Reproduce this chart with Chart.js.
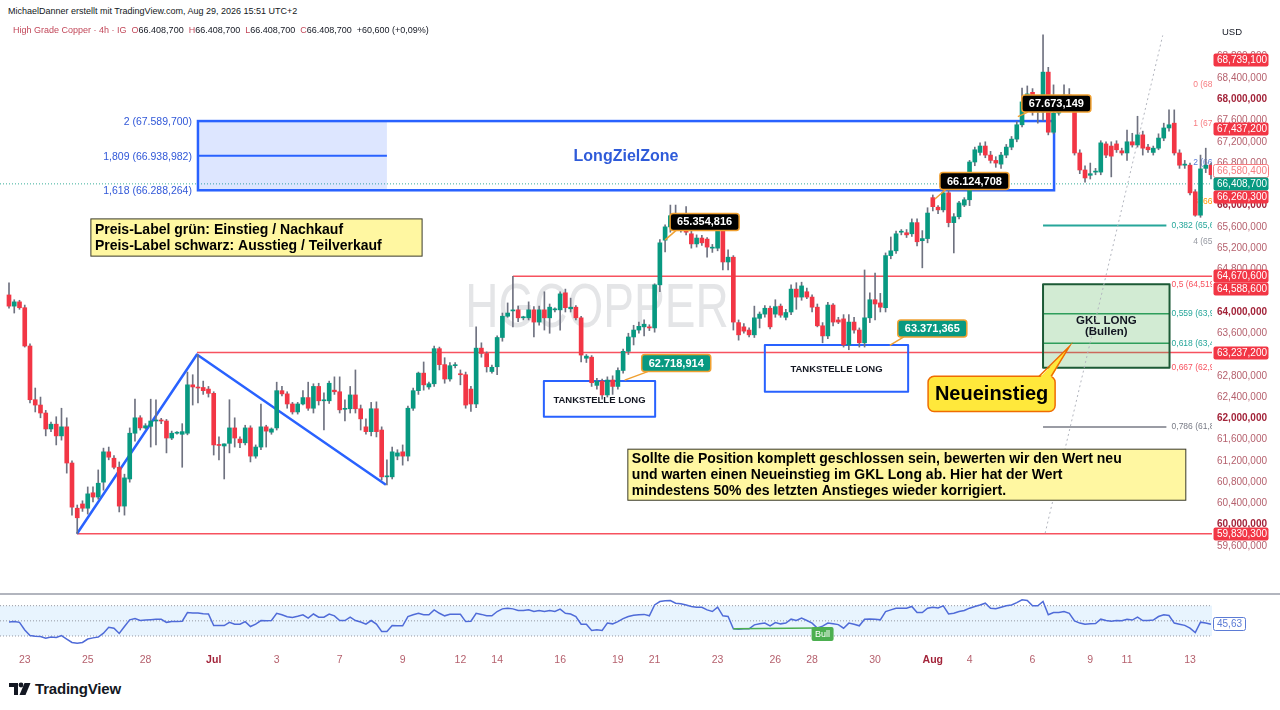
<!DOCTYPE html>
<html>
<head>
<meta charset="utf-8">
<script src="https://cdn.jsdelivr.net/npm/chart.js@4.4.1/dist/chart.umd.min.js"></script>
<style>
  body { margin: 0; width: 1280px; height: 710px; overflow: hidden; background: #fff; position: relative; font-family: 'Liberation Sans', Arial, sans-serif; }
  canvas { position: absolute; left: 0; }
  #main { top: 20px; }
  #rsi { top: 596px; }
  .hd { position: absolute; white-space: nowrap; color: #131722; }
  .r { color: #c2485a; }
</style>
</head>
<body>
<canvas id="main" width="1280" height="574"></canvas>
<div style="position:absolute;left:0;top:593px;width:1280px;height:2px;background:#b2b5be"></div>
<canvas id="rsi" width="1280" height="74"></canvas>

<div class="hd" style="left:8px;top:6px;font-size:9px">MichaelDanner erstellt mit TradingView.com, Aug 29, 2026 15:51 UTC+2</div>
<div class="hd" style="left:13px;top:25px;font-size:9px"><span class="r">High Grade Copper · 4h · IG</span>&nbsp;&nbsp;<span class="r">O</span>66.408,700&nbsp;&nbsp;<span class="r">H</span>66.408,700&nbsp;&nbsp;<span class="r">L</span>66.408,700&nbsp;&nbsp;<span class="r">C</span>66.408,700&nbsp;&nbsp;+60,600 (+0,09%)</div>
<div class="hd" style="left:1222px;top:26px;font-size:9.5px">USD</div>
<div class="hd" style="left:9px;top:680px;display:flex;align-items:center;gap:4px">
  <svg width="22" height="14" viewBox="0 0 22 14"><path d="M0 1h9v12H5V5H0z" fill="#131722"/><circle cx="12" cy="3" r="2.4" fill="#131722"/><path d="M15.5 1h6l-5 12h-6z" fill="#131722"/></svg>
  <span style="font-weight:bold;font-size:15px;letter-spacing:-0.2px">TradingView</span>
</div>

<script>
// ---- candles (4h), index 0 = Jun 23 ----
const opens = [
  64.32,64.11,64.19,64.08,63.36,62.35,62.25,62.10,61.80,61.89,
  61.67,61.84,61.16,60.31,60.39,60.31,60.60,60.52,60.80,61.37,
  61.25,61.08,60.35,60.86,61.72,62.01,61.82,61.85,61.95,61.96,
  61.95,61.63,61.72,61.70,61.72,62.63,62.58,62.58,62.55,62.47,
  61.50,61.48,61.53,61.82,61.61,61.54,61.82,61.29,61.46,61.84,
  61.74,61.82,62.52,62.46,62.27,62.12,62.27,62.39,62.19,62.60,
  62.33,62.33,62.53,62.50,62.17,62.18,62.44,62.18,61.84,61.75,
  62.18,61.78,60.90,60.90,61.29,61.37,61.29,62.19,62.52,62.85,
  62.59,62.65,63.31,63.01,62.74,62.99,62.83,62.82,62.55,62.27,
  63.32,63.22,62.88,62.97,63.52,63.92,64.02,64.04,63.89,63.89,
  64.04,63.81,64.04,63.89,64.04,64.04,64.36,64.06,64.09,63.89,
  63.13,63.15,62.62,62.70,62.44,62.72,62.60,62.90,63.26,63.53,
  63.66,63.72,63.72,63.70,64.51,65.35,65.60,65.81,65.60,65.75,
  65.47,65.28,65.39,65.37,65.20,65.20,65.64,64.94,65.03,63.80,
  63.72,63.66,63.57,63.88,63.96,64.07,63.96,64.11,63.90,64.00,
  64.43,64.28,64.38,64.28,64.09,63.74,63.55,64.13,63.85,63.87,
  63.38,63.81,63.66,63.42,63.89,64.23,64.17,64.08,65.06,65.15,
  65.50,65.49,65.47,65.68,65.34,65.38,66.15,65.97,65.92,66.24,
  65.68,65.79,66.01,66.11,66.82,67.00,67.12,66.95,66.85,66.78,
  66.95,67.10,67.25,67.52,67.95,68.13,67.76,67.76,68.51,67.38,
  67.74,67.90,68.08,67.90,66.99,66.67,66.57,66.63,66.63,67.16,
  67.12,67.16,67.03,66.99,67.20,67.14,67.33,67.10,67.00,67.08,
  67.27,67.46,67.55,66.99,66.76,66.76,66.26,65.82,66.70,66.76
];
const highs = [
  64.55,64.23,64.22,64.13,63.40,62.57,62.40,62.15,61.93,62.03,
  62.19,62.01,61.20,60.37,60.45,60.71,60.71,61.03,61.44,61.46,
  61.30,61.18,60.95,61.82,62.36,62.05,61.90,62.36,62.35,62.00,
  61.98,61.76,61.75,61.90,62.87,62.82,63.20,62.70,62.60,62.50,
  61.65,61.52,62.35,62.01,61.65,61.87,61.86,61.50,62.27,61.87,
  61.82,62.68,62.60,62.50,62.30,62.30,62.52,62.68,62.65,62.66,
  62.48,62.70,62.78,62.78,62.35,62.60,62.91,62.25,61.99,62.30,
  62.31,61.84,61.22,61.46,61.41,61.50,62.23,62.57,62.87,63.06,
  62.68,63.36,63.34,63.14,63.05,63.05,62.91,62.87,62.60,63.72,
  63.42,63.25,63.00,63.55,63.98,64.17,64.67,64.11,63.92,64.19,
  64.10,64.11,64.38,64.15,64.08,64.38,64.43,64.26,64.12,63.92,
  63.20,63.18,62.75,62.74,62.78,62.80,62.95,63.30,63.60,63.75,
  63.81,63.85,63.76,64.53,65.36,65.64,66.01,66.01,65.85,65.98,
  65.55,65.45,65.44,65.40,65.27,65.68,65.68,65.17,65.06,63.85,
  63.78,63.70,64.11,64.00,64.12,64.11,64.23,64.15,64.05,64.51,
  64.55,64.56,64.45,64.32,64.15,63.80,64.18,64.16,63.90,63.95,
  63.95,63.90,63.70,64.79,64.36,64.73,64.35,65.11,65.41,65.52,
  65.55,65.55,65.75,65.75,65.53,65.96,66.20,66.00,66.28,66.28,
  65.85,66.08,66.15,66.85,67.10,67.18,67.20,67.02,66.92,67.00,
  67.15,67.30,67.58,68.21,68.25,68.20,67.85,69.21,68.60,68.27,
  67.95,68.27,68.20,67.95,67.05,66.75,66.80,66.70,67.22,67.20,
  67.20,67.22,67.08,67.42,67.36,67.68,67.40,67.15,67.12,67.35,
  67.55,67.80,67.80,67.05,66.85,66.80,66.30,66.95,67.08,66.80
];
const lows = [
  64.07,63.98,64.05,63.34,62.29,62.12,62.01,61.67,61.75,61.50,
  61.59,60.97,60.18,59.83,60.25,60.20,60.43,60.48,60.65,61.22,
  61.05,60.24,60.18,60.80,61.57,61.78,61.80,61.46,61.50,61.90,
  61.35,61.60,61.70,61.08,61.69,62.25,62.29,62.45,62.40,61.31,
  61.22,60.86,61.35,61.46,61.45,61.50,61.18,61.25,61.41,61.46,
  61.70,61.78,62.42,62.19,62.08,62.08,62.25,62.15,62.10,62.25,
  61.78,62.28,62.45,62.10,61.95,62.10,62.10,61.78,61.70,61.67,
  61.65,60.84,60.75,60.86,61.22,61.12,61.20,62.15,62.45,62.53,
  62.55,62.60,62.91,62.66,62.70,62.95,62.63,62.19,62.13,62.20,
  63.15,62.87,62.85,62.82,63.45,63.90,63.72,63.82,63.85,63.85,
  63.53,63.75,63.66,63.60,64.00,63.66,64.00,64.00,63.85,63.06,
  63.05,62.60,62.55,62.36,62.40,62.45,62.55,62.85,63.20,63.38,
  63.60,63.55,63.65,63.62,64.38,65.13,65.50,65.55,65.50,65.45,
  65.20,65.22,65.25,65.03,65.12,65.15,64.79,64.79,63.66,63.47,
  63.60,63.53,63.52,63.70,63.90,63.68,63.90,63.90,63.85,63.95,
  64.05,64.22,64.25,64.00,63.72,63.42,63.50,63.74,63.78,63.34,
  63.29,63.60,63.34,63.34,63.80,63.85,64.00,64.00,65.00,65.10,
  65.45,65.40,65.42,65.24,64.83,65.30,65.90,65.85,65.88,65.60,
  65.11,65.75,65.98,66.00,66.75,66.95,66.90,66.80,66.72,66.70,
  66.90,67.05,67.20,67.48,67.90,67.70,67.55,67.60,67.33,67.35,
  67.70,67.85,67.85,66.95,66.60,66.44,66.50,66.58,66.58,66.90,
  66.54,67.00,66.95,66.85,67.10,67.10,66.95,67.00,66.95,67.05,
  67.22,67.40,66.95,66.70,66.70,66.20,65.80,65.78,66.62,66.50
];
const closes = [
  64.11,64.19,64.08,63.36,62.35,62.25,62.10,61.80,61.89,61.67,
  61.84,61.16,60.33,60.13,60.31,60.58,60.52,60.78,61.37,61.27,
  61.08,60.35,60.88,61.72,62.01,61.82,61.86,61.95,61.96,61.95,
  61.63,61.72,61.73,61.75,62.63,62.59,62.57,62.52,62.47,61.50,
  61.49,61.52,61.82,61.63,61.54,61.82,61.29,61.46,61.84,61.76,
  61.80,62.52,62.46,62.27,62.12,62.27,62.39,62.19,62.60,62.33,
  62.34,62.66,62.50,62.16,62.18,62.44,62.18,61.99,61.75,62.18,
  61.75,60.90,60.91,61.37,61.35,61.29,62.19,62.52,62.85,62.63,
  62.65,63.31,63.01,62.74,62.99,63.00,62.82,62.25,62.27,63.32,
  63.22,62.97,62.96,63.52,63.92,63.98,64.03,63.89,63.90,64.04,
  63.81,64.04,63.89,64.09,64.05,64.34,64.08,64.09,63.89,63.19,
  63.17,62.67,62.70,62.44,62.72,62.60,62.90,63.26,63.53,63.66,
  63.73,63.77,63.70,64.51,65.30,65.60,65.81,65.64,65.75,65.50,
  65.28,65.39,65.30,65.22,65.21,65.64,64.94,65.03,63.81,63.57,
  63.64,63.57,63.89,63.96,64.07,63.72,64.10,63.94,63.99,64.43,
  64.28,64.49,64.28,64.09,63.74,63.55,64.13,63.81,63.81,63.38,
  63.81,63.66,63.42,63.89,64.23,64.15,64.09,65.06,65.15,65.47,
  65.51,65.45,65.68,65.32,65.38,65.86,65.98,65.92,66.24,65.68,
  65.79,66.05,66.11,66.82,67.05,67.12,66.95,66.85,66.80,66.95,
  67.10,67.25,67.52,67.95,68.10,67.76,67.78,68.51,67.38,67.74,
  67.90,68.08,67.90,66.99,66.67,66.52,66.60,66.64,67.18,66.95,
  66.93,67.05,66.99,67.20,67.14,67.33,67.08,67.05,67.08,67.27,
  67.46,67.52,66.99,66.76,66.78,66.24,65.82,66.69,66.76,66.58
];
// RSI (14)
const rsiValues = [
  48.5,49,48,38,30.7,29.5,29.3,27,28.5,28,
  30.6,26,21.5,20.5,21.4,26,27.5,28.5,33.7,41.6,
  40.3,33.3,42.5,51.3,53,50.4,51,51.5,52,52,
  48,49,49,49.5,61,60.5,60.5,59.5,59,43.8,
  43.8,43.8,48,45.6,45.6,49,42.5,45.6,50.4,50,
  50.4,60,58,55.5,54.4,56,58,53.5,59,54.8,
  54.8,59,56.6,50.4,50.4,54.8,50.4,48.5,45.6,50.4,
  45.6,36,36,43.8,43.5,43.5,55.7,58,60,58,
  58,64.5,60,56.6,58.6,58.6,58.6,49,49.5,60,
  58.5,56.6,56.6,62.3,65.8,66.5,65.8,63.6,63.6,64.5,
  62.3,63.6,62.3,63.6,62.3,65.4,60,59,55.7,45.6,
  45.6,37.3,38.2,37.3,47,46,49,53,55.7,57.5,
  58,58.5,56.6,71,75.5,76.5,76.8,73.3,72.5,71,
  69,68,68,64.5,62.3,68,56.6,55.7,39.4,39,
  39.5,39.4,44.7,46,47,43.4,47.8,46,47,52.2,
  50.4,53.5,50.4,47,40.5,43,47,46,45,40.3,
  47,45.6,43.4,52.2,52.5,52.2,51.3,62.3,64.5,66.7,
  66.7,66.7,69,61,61,66.7,68,67,69.8,59,
  60,62.3,63.6,66.7,69,71,73.3,66.7,66,68,
  69.8,71,74,77.7,76.8,69.8,69.8,75.5,58,61,
  61,62.3,60,50,47,45.6,46,46.5,52.2,50.4,
  49.5,50.4,50,52.2,51,54.8,50.4,50.4,51,55.7,
  58,57,47,45.6,44,40.3,34.6,48.2,47,45.63
];

const dateTickIdx    = [3, 15, 26, 39, 51, 63, 75, 86, 93, 105, 116, 123, 135, 146, 153, 165, 176, 183, 195, 206, 213, 225];
const dateTickLabels = ['23','25','28','Jul','3','7','9','12','14','16','19','21','23','26','28','30','Aug','4','6','9','11','13'];
const priceTicks = [59.6,60.0,60.4,60.8,61.2,61.6,62.0,62.4,62.8,63.2,63.6,64.0,64.4,64.8,65.2,65.6,66.0,66.4,66.8,67.2,67.6,68.0,68.4,68.8];

const axisMarks   = [68.7391, 67.4372, 66.5804, 66.4087, 66.2603, 64.6706, 64.5886, 63.2372, 59.8303];
const markKinds   = ['red','red','outline','green','red','red','red','red','red'];
const lastPrice   = 66.4087;
const zoneLevels  = [67.5897, 66.938982, 66.288264];
const zoneNames   = ['2', '1,809', '1,618'];
const supportLvls = [64.6706, 63.2372, 59.8303];
const supportFrom = [96, 35.8, 12.95];
const fibHigh = 69.208, fibLow = 59.8303;
const fibRatios = [0.382, 0.5, 0.559, 0.618, 0.667, 0.786];
const extLevels = [68.27, 67.535, 66.80, 66.065, 65.33];
const calloutPrices = [62.718914, 63.371365, 65.354816, 66.124708, 67.673149];

const F = "'Liberation Sans', Arial, sans-serif";
const UP = '#089981', DOWN = '#f23645';
const XMIN = -1.7146, XMAX = 229.19;
const boxes = [[101.9, 123.1, 62.70, 62.03], [144.0, 171.3, 63.38, 62.50]];

Chart.defaults.font.family = F;
Chart.defaults.animation = false;

const usFmt = v => Math.round(v * 1e6).toLocaleString('en-US');
function deFmt(v) {
  const [a, b] = (v * 1000).toFixed(3).split('.');
  return a.slice(0, -3) + '.' + a.slice(-3) + ',' + b;
}
const isWhole = v => Math.abs(v - Math.round(v)) < 1e-6;
function line(ctx, x1, y1, x2, y2) { ctx.beginPath(); ctx.moveTo(x1, y1); ctx.lineTo(x2, y2); ctx.stroke(); }

const idx = closes.map((_, i) => i);

const mainDecor = {
  id: 'mainDecor',
  beforeDatasetsDraw(c) {
    const { ctx, chartArea: a } = c;
    const x = i => c.scales.x.getPixelForValue(i), y = v => c.scales.y.getPixelForValue(v);
    ctx.save();
    ctx.beginPath(); ctx.rect(a.left, a.top, a.width, a.height); ctx.clip();

    // watermark
    ctx.save();
    ctx.fillStyle = 'rgba(120,123,134,0.2)';
    ctx.font = `46px ${F}`;
    ctx.textAlign = 'center'; ctx.textBaseline = 'middle';
    ctx.translate(597, 290); ctx.scale(1, 1.35);
    ctx.fillText('HGCOPPER', 0, 0);
    ctx.restore();

    // last price line
    ctx.setLineDash([1, 2]); ctx.strokeStyle = 'rgba(8,153,129,0.8)'; ctx.lineWidth = 1;
    line(ctx, a.left, y(lastPrice), a.right, y(lastPrice));
    ctx.setLineDash([]);

    // horizontal red lines
    ctx.strokeStyle = '#f7525f'; ctx.lineWidth = 1.5;
    supportLvls.forEach((v, k) => line(ctx, x(supportFrom[k]), y(v), a.right, y(v)));

    // LongZielZone
    const zl = x(36), zm = x(72), zr = x(199.1);
    const zt = y(zoneLevels[0]), zb = y(zoneLevels[2]);
    ctx.fillStyle = 'rgba(41,98,255,0.16)';
    ctx.fillRect(zl, zt, zm - zl, zb - zt);
    ctx.strokeStyle = '#2962ff'; ctx.lineWidth = 2;
    line(ctx, zl, y(zoneLevels[1]), zm, y(zoneLevels[1]));
    ctx.lineWidth = 2.5;
    ctx.strokeRect(zl, zt, zr - zl, zb - zt);
    ctx.fillStyle = '#3158d8'; ctx.font = `10.5px ${F}`;
    ctx.textAlign = 'right'; ctx.textBaseline = 'middle';
    zoneLevels.forEach((v, k) => ctx.fillText(`${zoneNames[k]} (${deFmt(v)})`, zl - 6, y(v) + 1));
    ctx.font = `bold 16px ${F}`; ctx.textAlign = 'center'; ctx.fillStyle = '#2f5bd9';
    ctx.fillText('LongZielZone', (zl + zr) / 2, y(zoneLevels[1]) + 1);

    // triangle pattern
    ctx.strokeStyle = '#2962ff'; ctx.lineWidth = 2.5; ctx.lineJoin = 'round';
    ctx.beginPath();
    ctx.moveTo(x(12.95), y(lows[13]));
    ctx.lineTo(x(35.8), y(highs[36]));
    ctx.lineTo(x(71.8), y(lows[72]));
    ctx.stroke();

    // fib retracement + GKL box
    const lvl = r => fibHigh - r * (fibHigh - fibLow);
    const b1 = x(197), b2 = x(221.1), lEnd = x(220.5);
    ctx.fillStyle = 'rgba(76,175,80,0.25)';
    ctx.fillRect(b1, y(lvl(0.5)), b2 - b1, y(lvl(0.667)) - y(lvl(0.5)));
    ctx.strokeStyle = '#2e9e5b'; ctx.lineWidth = 1.5;
    line(ctx, b1, y(lvl(0.559)), b2, y(lvl(0.559)));
    line(ctx, b1, y(lvl(0.618)), b2, y(lvl(0.618)));
    ctx.strokeStyle = '#1c5a36'; ctx.lineWidth = 2;
    ctx.strokeRect(b1, y(lvl(0.5)), b2 - b1, y(lvl(0.667)) - y(lvl(0.5)));
    ctx.strokeStyle = '#26a69a'; ctx.lineWidth = 2;
    line(ctx, b1, y(lvl(0.382)), lEnd, y(lvl(0.382)));
    ctx.strokeStyle = '#787b86'; ctx.lineWidth = 1.5;
    line(ctx, b1, y(lvl(0.786)), lEnd, y(lvl(0.786)));
    const fibCol = ['#26a69a', '#f7525f', '#26a69a', '#26a69a', '#f7525f', '#787b86'];
    ctx.font = `8.5px ${F}`; ctx.textAlign = 'left'; ctx.textBaseline = 'middle';
    fibRatios.forEach((r, k) => {
      ctx.fillStyle = fibCol[k];
      ctx.fillText(`${String(r).replace('.', ',')} (${usFmt(lvl(r))})`, b2 + 2, y(lvl(r)));
    });
    ctx.fillStyle = '#131722'; ctx.font = `bold 11.5px ${F}`; ctx.textAlign = 'center';
    const gm = (y(lvl(0.5)) + y(lvl(0.667))) / 2;
    ctx.fillText('GKL LONG', (b1 + b2) / 2, gm - 5);
    ctx.fillText('(Bullen)', (b1 + b2) / 2, gm + 6);

    // extension level labels
    const extCol = ['#f77c80', '#f77c80', '#5b7bd5', '#ff9800', '#9598a1'];
    ctx.font = `8.5px ${F}`; ctx.textAlign = 'left';
    extLevels.forEach((v, k) => { ctx.fillStyle = extCol[k]; ctx.fillText(`${k} (${usFmt(v)})`, x(225.6), y(v)); });

    // dotted angle line
    ctx.strokeStyle = '#b2b5be'; ctx.lineWidth = 1; ctx.setLineDash([2, 3]);
    line(ctx, x(197.4), y(59.84), x(219.8), y(69.2));
    ctx.setLineDash([]);

    // TANKSTELLE LONG box frames
    ctx.strokeStyle = '#2962ff'; ctx.lineWidth = 2;
    boxes.forEach(([i0, i1, v0, v1]) => ctx.strokeRect(x(i0), y(v0), x(i1) - x(i0), y(v1) - y(v0)));
    ctx.restore();
  },
  afterDatasetsDraw(c) {
    const { ctx, chartArea: a } = c;
    const x = i => c.scales.x.getPixelForValue(i), y = v => c.scales.y.getPixelForValue(v);
    ctx.save();
    ctx.beginPath(); ctx.rect(a.left, a.top, a.width, a.height); ctx.clip();

    // TANKSTELLE LONG texts on top
    ctx.font = `bold 9.5px ${F}`; ctx.fillStyle = '#131722'; ctx.textAlign = 'center'; ctx.textBaseline = 'middle';
    boxes.forEach(([i0, i1, v0, v1]) => ctx.fillText('TANKSTELLE LONG', (x(i0) + x(i1)) / 2, (y(v0) + y(v1)) / 2 + 1));

    // yellow notes
    const note = (i0, i1, v0, v1, lines, off) => {
      const l = x(i0), t = y(v0);
      ctx.fillStyle = '#fff7a1'; ctx.fillRect(l, t, x(i1) - l, y(v1) - t);
      ctx.strokeStyle = '#3a3a2a'; ctx.lineWidth = 1; ctx.strokeRect(l, t, x(i1) - l, y(v1) - t);
      ctx.fillStyle = '#000'; ctx.font = `bold 14px ${F}`; ctx.textAlign = 'left'; ctx.textBaseline = 'middle';
      lines.forEach((s, k) => ctx.fillText(s, l + 4, t + off + k * 16));
    };
    note(15.6, 78.7, 65.75, 65.05, ['Preis-Label grün: Einstieg / Nachkauf', 'Preis-Label schwarz: Ausstieg / Teilverkauf'], 11);
    note(117.9, 224.2, 61.42, 60.46, [
      'Sollte die Position komplett geschlossen sein, bewerten wir den Wert neu',
      'und warten einen Neueinstieg im GKL Long ab. Hier hat der Wert',
      'mindestens 50% des letzten Anstieges wieder korrigiert.'
    ], 10);

    // price label callouts
    const anchors = [[117.3, 17, -17, UP], [167.8, 8, -17, UP], [125, 5, -18, '#000'], [176.4, 5, -18, '#000'], [192.2, 4, -13, '#000']];
    ctx.font = `bold 11px ${F}`; ctx.textAlign = 'left'; ctx.textBaseline = 'middle';
    calloutPrices.forEach((v, k) => {
      const [ai, dx, dy, bg] = anchors[k];
      const ax = x(ai), ay = y(v), t = deFmt(v);
      const w = ctx.measureText(t).width + 14, h = 17;
      const bx = ax + dx, by = ay + dy - h / 2;
      ctx.strokeStyle = '#f0a030'; ctx.lineWidth = 1.5;
      line(ctx, bx + 6, by + h, ax, ay);
      ctx.fillStyle = bg; ctx.beginPath(); ctx.roundRect(bx, by, w, h, 3); ctx.fill(); ctx.stroke();
      ctx.fillStyle = '#fff'; ctx.fillText(t, bx + 7, by + h / 2 + 0.5);
    });

    // Neueinstieg callout
    const nl = x(175.1), nr = x(199.3), nt = y(62.79), nb = y(62.13);
    const tipX = x(202), tipY = y(63.35);
    ctx.fillStyle = '#ffe83b'; ctx.strokeStyle = '#ef6c00'; ctx.lineWidth = 1.5;
    ctx.beginPath(); ctx.roundRect(nl, nt, nr - nl, nb - nt, 6); ctx.fill(); ctx.stroke();
    ctx.beginPath(); ctx.moveTo(nr - 16, nt + 2); ctx.lineTo(tipX, tipY); ctx.lineTo(nr - 4, nt + 2); ctx.closePath(); ctx.fill();
    ctx.beginPath(); ctx.moveTo(nr - 16, nt); ctx.lineTo(tipX, tipY); ctx.lineTo(nr - 4, nt); ctx.stroke();
    ctx.fillStyle = '#000'; ctx.font = `bold 20px ${F}`; ctx.textAlign = 'center';
    ctx.fillText('Neueinstieg', (nl + nr) / 2, (nt + nb) / 2 + 1);
    ctx.restore();
  },
  afterDraw(c) {
    const { ctx } = c;
    const y = v => c.scales.y.getPixelForValue(v);
    // axis price labels, pushed apart around the last-price label like the price scale does
    const pos = axisMarks.map(v => y(v));
    const anchor = markKinds.indexOf('green');
    for (let k = anchor - 1; k >= 0; k--) pos[k] = Math.min(pos[k], pos[k + 1] - 13);
    for (let k = anchor + 1; k < pos.length; k++) pos[k] = Math.max(pos[k], pos[k - 1] + 13);
    ctx.save();
    ctx.font = `10px ${F}`; ctx.textAlign = 'left'; ctx.textBaseline = 'middle';
    axisMarks.forEach((v, k) => {
      const yy = Math.round(pos[k]), kind = markKinds[k];
      ctx.fillStyle = kind === 'green' ? UP : kind === 'red' ? DOWN : '#fff';
      ctx.beginPath(); ctx.roundRect(1213.5, yy - 6.5, 55, 13, 2); ctx.fill();
      if (kind === 'outline') { ctx.strokeStyle = '#f77c80'; ctx.lineWidth = 1; ctx.stroke(); }
      ctx.fillStyle = kind === 'outline' ? '#f77c80' : '#fff';
      ctx.fillText(usFmt(v), 1217, yy + 0.5);
    });
    ctx.restore();
  }
};

new Chart(document.getElementById('main'), {
  type: 'bar',
  data: {
    datasets: [
      {
        label: 'wick',
        data: idx.map(i => ({ x: i, y: [lows[i], highs[i]] })),
        backgroundColor: '#6f7280',
        barThickness: 1, grouped: false, order: 2
      },
      {
        label: 'body',
        data: idx.map(i => ({ x: i, y: [opens[i], closes[i]] })),
        backgroundColor: idx.map(i => closes[i] >= opens[i] ? UP : DOWN),
        barThickness: 4, minBarLength: 1, grouped: false, order: 1
      }
    ]
  },
  options: {
    responsive: false,
    maintainAspectRatio: false,
    layout: { padding: 0 },
    plugins: { legend: { display: false }, tooltip: { enabled: false } },
    scales: {
      x: { type: 'linear', min: XMIN, max: XMAX, offset: false, display: false },
      y: {
        position: 'right', min: 58.697, max: 69.49, beginAtZero: false,
        afterBuildTicks: s => { s.ticks = priceTicks.map(v => ({ value: v })); },
        afterFit: s => { s.width = 68; s.paddingTop = 0; s.paddingBottom = 0; },
        grid: { display: false, drawTicks: false },
        border: { display: false },
        ticks: {
          padding: 5, crossAlign: 'near',
          callback: v => usFmt(v),
          font: ctx => ({ family: F, size: 10, weight: ctx.tick && isWhole(ctx.tick.value) ? 'bold' : 'normal' }),
          color: ctx => ctx.tick && isWhole(ctx.tick.value) ? '#a3243a' : '#b5606d'
        }
      }
    }
  },
  plugins: [mainDecor]
});

const rsiDecor = {
  id: 'rsiDecor',
  beforeDatasetsDraw(c) {
    const { ctx, chartArea: a } = c;
    const y = v => c.scales.y.getPixelForValue(v);
    ctx.save();
    ctx.fillStyle = 'rgba(33,150,243,0.1)';
    ctx.fillRect(a.left, y(70), a.width, y(30) - y(70));
    ctx.strokeStyle = '#9598a1'; ctx.lineWidth = 1; ctx.setLineDash([1, 2]);
    [70, 50, 30].forEach(v => line(ctx, a.left, y(v), a.right, y(v)));
    ctx.restore();
  },
  afterDatasetsDraw(c) {
    const { ctx } = c;
    const x = i => c.scales.x.getPixelForValue(i), y = v => c.scales.y.getPixelForValue(v);
    ctx.save();
    ctx.strokeStyle = '#4caf50'; ctx.lineWidth = 1.5;
    line(ctx, x(138), y(rsiValues[138]), x(154), y(rsiValues[154]));
    const bx = x(155) - 11, by = y(rsiValues[154]) - 1;
    ctx.fillStyle = '#4caf50';
    ctx.beginPath(); ctx.roundRect(bx, by, 22, 14, 2); ctx.fill();
    ctx.fillStyle = '#fff'; ctx.font = `9px ${F}`; ctx.textAlign = 'center'; ctx.textBaseline = 'middle';
    ctx.fillText('Bull', bx + 11, by + 7.5);
    ctx.restore();
  },
  afterDraw(c) {
    const { ctx } = c;
    const y = v => c.scales.y.getPixelForValue(v);
    const last = rsiValues[rsiValues.length - 1];
    const yy = Math.round(y(last));
    ctx.save();
    ctx.fillStyle = '#fff'; ctx.strokeStyle = '#5b7bd5'; ctx.lineWidth = 1;
    ctx.beginPath(); ctx.roundRect(1213.5, yy - 6.5, 32, 13, 2); ctx.fill(); ctx.stroke();
    ctx.fillStyle = '#5b7bd5'; ctx.font = `10px ${F}`; ctx.textAlign = 'left'; ctx.textBaseline = 'middle';
    ctx.fillText(last.toFixed(2).replace('.', ','), 1217, yy + 0.5);
    ctx.restore();
  }
};

new Chart(document.getElementById('rsi'), {
  type: 'line',
  data: {
    datasets: [{
      data: idx.map(i => ({ x: i, y: rsiValues[i] })),
      borderColor: '#4f6bd8', borderWidth: 1.5, pointRadius: 0, tension: 0
    }]
  },
  options: {
    responsive: false,
    maintainAspectRatio: false,
    layout: { padding: { right: 68, left: 0, top: 0, bottom: 0 } },
    plugins: { legend: { display: false }, tooltip: { enabled: false } },
    scales: {
      x: {
        type: 'linear', min: XMIN, max: XMAX, offset: false,
        afterBuildTicks: s => { s.ticks = dateTickIdx.map(v => ({ value: v })); },
        afterFit: s => { s.height = 21; s.paddingLeft = 0; s.paddingRight = 0; },
        grid: { display: false, drawTicks: false },
        border: { display: false },
        ticks: {
          autoSkip: false, maxRotation: 0, padding: 5,
          callback: (v, k) => dateTickLabels[k],
          font: ctx => ({ family: F, size: 10.5, weight: ['Jul', 'Aug'].includes(dateTickLabels[ctx.index]) ? 'bold' : 'normal' }),
          color: ctx => ['Jul', 'Aug'].includes(dateTickLabels[ctx.index]) ? '#a3243a' : '#b5606d'
        }
      },
      y: { display: false, min: 12.8, max: 82.8 }
    }
  },
  plugins: [rsiDecor]
});
</script>
</body>
</html>
